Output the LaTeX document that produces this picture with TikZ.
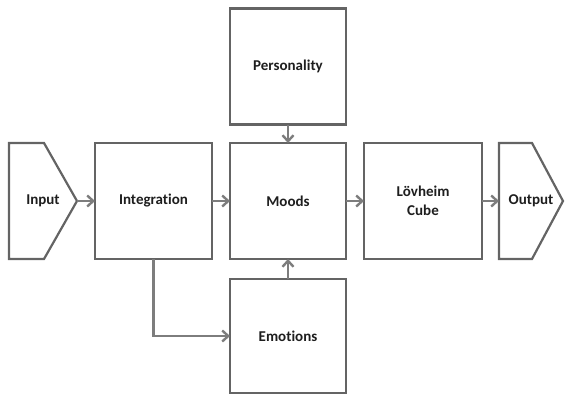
\documentclass[tikz,border=0pt]{standalone}
\usepackage{fontspec}
\setmainfont{Carlito}[Ligatures=NoCommon]
\usetikzlibrary{positioning,arrows.meta}
\definecolor{BoxGray}{RGB}{100,100,100}
\definecolor{LinkGray}{RGB}{125,125,125}
\definecolor{InkDark}{RGB}{30,30,30}

\begin{document}
\begin{tikzpicture}[x=1pt, y=-1pt, every node/.style={font=\fontsize{15}{19}\selectfont\bfseries, align=center, text=InkDark}]
  \tikzset{
    block/.style={draw=BoxGray, line width=2.2pt, fill=white, minimum width=116pt, minimum height=116pt, inner sep=0pt, outer sep=0pt},
    port/.style={minimum height=116pt, inner sep=0pt, outer sep=0pt},
    rim/.style={draw=BoxGray, line width=2.2pt, line join=miter},
    link/.style={-{Straight Barb[length=6pt, width=11pt, line width=2.4pt]}, line width=2.6pt, LinkGray}
  }
  \useasboundingbox (0,0) rectangle (565,394);
  \node[port, minimum width=68pt] (input) at (43,201) {Input};
  \node[block, minimum width=117pt] (integ) at (153.5,201) {Integration};
  \node[block] (moods) at (288,201) {Moods};
  \node[block] (pers) at (288,66.5) {Personality};
  \node[block, minimum height=114pt] (emot) at (288,336) {Emotions};
  \node[block, minimum width=118pt] (cube) at (423,201) {Lövheim\\Cube};
  \node[port, minimum width=64pt] (output) at (531,201) {Output};
  % pentagon outlines of the two ports
  \draw[rim] (input.north west) -- ([xshift=-33pt]input.north east) -- (input.east)
    -- ([xshift=-33pt]input.south east) -- (input.south west) -- cycle;
  \draw[rim] (output.north west) -- ([xshift=-31pt]output.north east) -- (output.east)
    -- ([xshift=-31pt]output.south east) -- (output.south west) -- cycle;
  \draw[link] (input) -- (integ);
  \draw[link] (integ) -- (moods);
  \draw[link] (moods) -- (cube);
  \draw[link] (cube) -- (output);
  \draw[link] (pers) -- (moods);
  \draw[link] (emot) -- (moods);
  \draw[link] (integ.south) |- (emot.west);
\end{tikzpicture}
\end{document}
